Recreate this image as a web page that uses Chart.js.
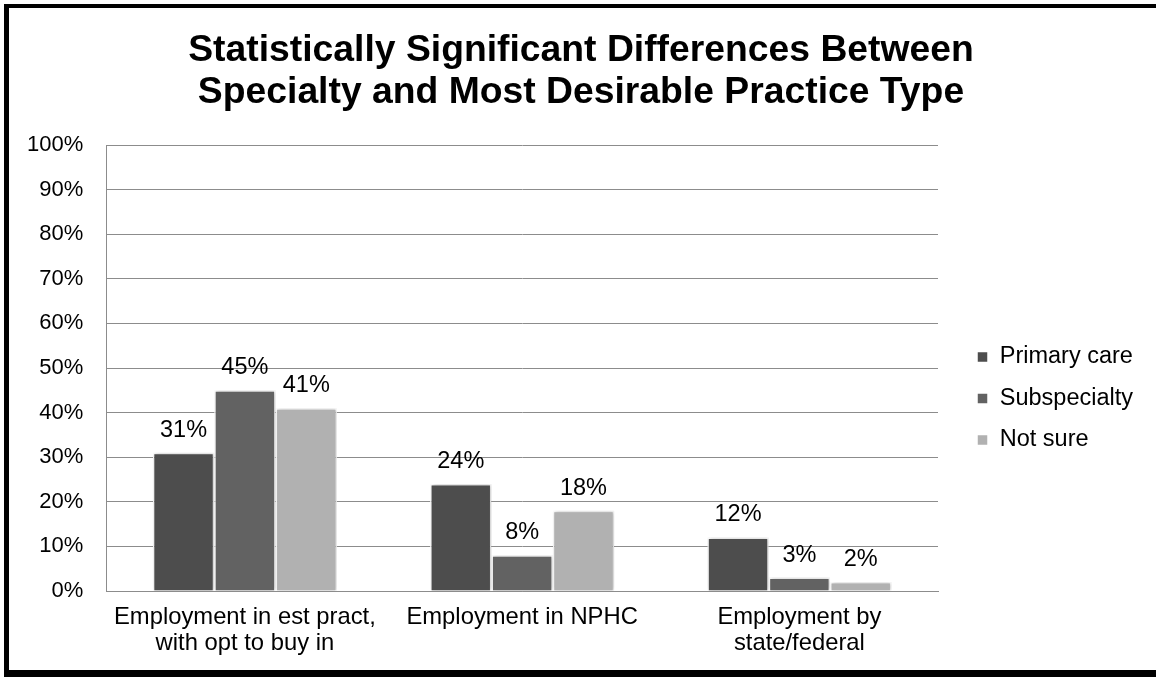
<!DOCTYPE html>
<html>
<head>
<meta charset="utf-8">
<script src="https://cdn.jsdelivr.net/npm/chart.js@4.4.1/dist/chart.umd.min.js"></script>
<style>
  html, body { margin: 0; padding: 0; background: #fff; overflow: hidden; }
  #frame {
    position: absolute; left: 4px; top: 4px;
    width: 1160px; height: 662px;
    border-left: 5px solid #000; border-top: 4px solid #000; border-bottom: 7px solid #000;
  }
  #specialtyChart { display: block; }
</style>
</head>
<body>
<div id="frame"><canvas id="specialtyChart" width="1147" height="662"></canvas></div>
<script>
// Practice type categories and percentage per specialty group
const categories = [
    ["Employment in est pract,", "with opt to buy in"],
    "Employment in NPHC",
    ["Employment by", "state/federal"]
];
const seriesNames = ["Primary care", "Subspecialty", "Not sure"];
const primaryCare = [31, 24, 12];
const subspecialty = [45, 8, 3];
const notSure = [41, 18, 2];

const FONT = "'Liberation Sans', Arial, Helvetica, sans-serif";
const GRID = "#8c8c8c";

// Soft shadow behind the bars, switched off again before the labels go on
const barShadow = {
    id: "barShadow",
    beforeDatasetsDraw(chart) {
        const ctx = chart.ctx;
        ctx.save();
        ctx.shadowColor = "rgba(0, 0, 0, 0.25)";
        ctx.shadowBlur = 4;
        ctx.shadowOffsetX = 1;
        ctx.shadowOffsetY = 0;
    },
    afterDatasetsDraw(chart) {
        chart.ctx.restore();
    }
};

// Percent values written above every bar
const valueLabels = {
    id: "valueLabels",
    afterDatasetsDraw(chart) {
        const ctx = chart.ctx;
        ctx.save();
        ctx.font = "23.5px " + FONT;
        ctx.fillStyle = "#000";
        ctx.textAlign = "center";
        ctx.textBaseline = "alphabetic";
        chart.data.datasets.forEach((ds, i) => {
            chart.getDatasetMeta(i).data.forEach((bar, j) => {
                ctx.fillText(ds.data[j] + "%", bar.x, bar.y - 16);
            });
        });
        ctx.restore();
    }
};

// Keep the title centred on the whole canvas and nudge the legend right/down
const boxShift = {
    id: "boxShift",
    afterLayout(chart) {
        const t = chart.titleBlock;
        t.left = 0;
        t.right = chart.width - 3;
        const lg = chart.legend;
        lg.left += 21; lg.right += 21;
        lg.top += 60; lg.bottom += 60;
    }
};

const ctx = document.getElementById("specialtyChart").getContext("2d");

new Chart(ctx, {
    type: "bar",
    data: {
        labels: categories,
        datasets: [
            { label: seriesNames[0], data: primaryCare, backgroundColor: "#4d4d4d" },
            { label: seriesNames[1], data: subspecialty, backgroundColor: "#626262" },
            { label: seriesNames[2], data: notSure, backgroundColor: "#b1b1b1" }
        ]
    },
    options: {
        responsive: false,
        devicePixelRatio: 1,
        animation: false,
        layout: { padding: { left: -5, right: 34, top: 0, bottom: 1 } },
        datasets: {
            bar: {
                categoryPercentage: 0.664,
                barPercentage: 1,
                borderColor: "#ffffff",
                borderWidth: 1.5
            }
        },
        plugins: {
            title: {
                display: true,
                text: ["Statistically Significant Differences Between", "Specialty and Most Desirable Practice Type"],
                color: "#000",
                font: { family: FONT, size: 37.3, weight: "bold", lineHeight: "41.5px" },
                padding: { top: 22, bottom: 32 }
            },
            legend: {
                position: "right",
                labels: {
                    color: "#000",
                    font: { family: FONT, size: 23.5 },
                    boxWidth: 11,
                    boxHeight: 11,
                    padding: 18
                }
            },
            tooltip: { enabled: false }
        },
        scales: {
            x: {
                grid: { display: false, drawTicks: false },
                border: { display: true, color: GRID, width: 1 },
                ticks: {
                    color: "#000",
                    padding: 13,
                    maxRotation: 0,
                    autoSkip: false,
                    font: { family: FONT, size: 23.8, lineHeight: "26px" }
                }
            },
            y: {
                min: 0,
                max: 100,
                grid: { color: GRID, lineWidth: 1, drawTicks: false },
                border: { display: true, color: GRID, width: 1 },
                ticks: {
                    stepSize: 10,
                    color: "#000",
                    padding: 23,
                    font: { family: FONT, size: 22 },
                    callback: v => v + "%"
                }
            }
        }
    },
    plugins: [barShadow, valueLabels, boxShift]
});
</script>
</body>
</html>
